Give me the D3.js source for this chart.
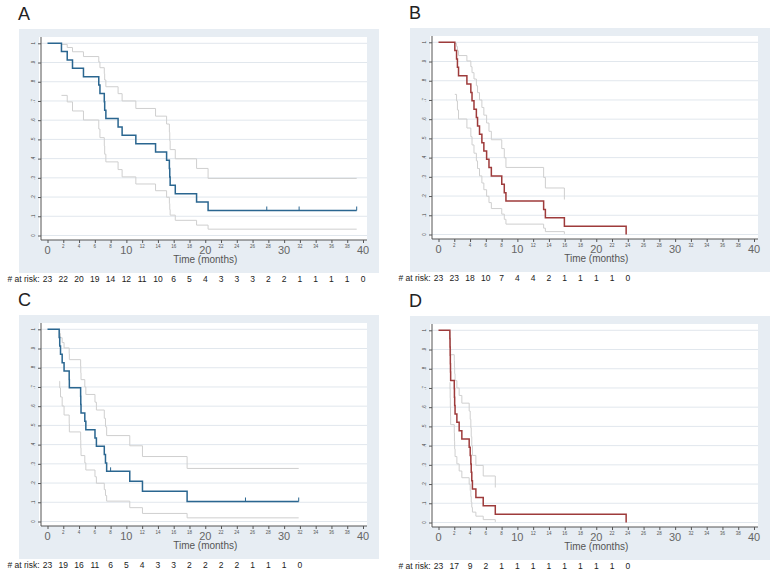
<!DOCTYPE html>
<html>
<head>
<meta charset="utf-8">
<script src="https://cdn.jsdelivr.net/npm/d3@7"></script>
<style>
  html, body { margin: 0; padding: 0; background: #ffffff; }
  svg { display: block; font-family: Arial, "Liberation Sans", sans-serif; }
</style>
</head>
<body>
<svg id="chart" width="779" height="574"></svg>
<script>
// ---------------- DATA ----------------
const panelLabels = ["A", "B", "C", "D"];
const xTicks = [0,2,4,6,8,10,12,14,16,18,20,22,24,26,28,30,32,34,36,38,40];
const yTicks = [0,0.1,0.2,0.3,0.4,0.5,0.6,0.7,0.8,0.9,1];
const yTickLabels = ["0",".1",".2",".3",".4",".5",".6",".7",".8",".9","1"];
const xAxisTitle = "Time (months)";
const riskLabel = "# at risk:";

// Panel A
const timesA = [0,1.77,2.5,3.17,4.56,6.5,6.65,7.2,7.25,7.4,8.95,9.46,11.2,13.7,15.1,15.45,15.5,15.55,16.2,18.9,20.36];
const survA  = [1,.957,.913,.870,.826,.783,.739,.696,.652,.609,.565,.522,.478,.435,.391,.348,.304,.261,.217,.174,.130];
const upperA = [null,.994,.978,.956,.931,.903,.873,.842,.809,.774,.738,.700,.661,.621,.580,.537,.493,.447,.399,.349,.297];
const lowerA = [null,.729,.695,.648,.601,.554,.509,.466,.423,.383,.343,.305,.268,.233,.199,.166,.135,.106,.079,.054,.033];
const endA = 39.2;
const censorA = [27.8,31.9,39.2];
const riskA = [23,22,20,19,14,12,11,10,6,5,4,3,3,3,2,2,1,1,1,1,0];

// Panel B
const timesB = [0,2.07,2.29,2.4,2.54,3.6,4.1,4.25,4.5,4.8,4.95,5.2,5.5,5.75,6.1,6.4,6.7,8.02,8.34,8.55,13.33,13.55,15.96,23.79];
const survB  = [1,.957,.913,.870,.826,.783,.739,.696,.652,.609,.565,.522,.478,.435,.391,.348,.304,.261,.217,.174,.130,.087,.0435,0];
const upperB = [null,.994,.978,.956,.931,.903,.873,.842,.809,.774,.738,.700,.661,.621,.580,.537,.493,.447,.399,.349,.297,.242,.182,null];
const lowerB = [null,.729,.695,.648,.601,.554,.509,.466,.423,.383,.343,.305,.268,.233,.199,.166,.135,.106,.079,.054,.033,.015,.003,null];
const endB = 23.79;
const censorB = [];
const riskB = [23,23,18,10,7,4,4,2,1,1,1,1,0];

// Panel C
const timesC = [0,1.48,1.55,1.65,1.86,2.1,2.75,2.77,4.2,4.22,4.25,4.73,4.86,6.02,6.2,7.2,7.35,7.5,10.43,12.04,17.7];
const survC  = [1,.957,.913,.870,.826,.783,.739,.696,.652,.609,.565,.522,.478,.435,.391,.348,.304,.261,.209,.157,.104];
const upperC = [null,.994,.978,.956,.931,.903,.873,.842,.809,.774,.738,.700,.661,.621,.580,.537,.493,.447,.394,.338,.276];
const lowerC = [null,.729,.695,.648,.601,.554,.509,.466,.423,.383,.343,.305,.268,.233,.199,.166,.135,.106,.072,.042,.019];
const endC = 31.85;
const censorC = [8.0,25.1,31.85];
const riskC = [23,19,16,11,6,5,4,3,3,2,2,2,2,1,1,1,0];

// Panel D
const timesD = [0,1.44,1.46,1.48,1.5,1.52,1.54,2.0,2.02,2.05,2.1,2.33,2.62,2.96,3.89,4.02,4.1,4.15,4.22,4.3,4.74,5.67,7.2,23.79];
const survD  = [1,.957,.913,.870,.826,.783,.739,.696,.652,.609,.565,.522,.478,.435,.391,.348,.304,.261,.217,.174,.130,.087,.0435,0];
const upperD = [null,.994,.978,.956,.931,.903,.873,.842,.809,.774,.738,.700,.661,.621,.580,.537,.493,.447,.399,.349,.297,.242,.182,null];
const lowerD = [null,.729,.695,.648,.601,.554,.509,.466,.423,.383,.343,.305,.268,.233,.199,.166,.135,.106,.079,.054,.033,.015,.003,null];
const endD = 23.79;
const censorD = [];
const riskD = [23,17,9,2,1,1,1,1,1,1,1,1,0];

const blueColor = "#2a6690";
const redColor = "#9e3b3b";

const panels = [
  {label:"A", ox:19,  oy:29,  times:timesA, surv:survA, upper:upperA, lower:lowerA, end:endA, censor:censorA, risk:riskA, color:blueColor},
  {label:"B", ox:410, oy:28,  times:timesB, surv:survB, upper:upperB, lower:lowerB, end:endB, censor:censorB, risk:riskB, color:redColor},
  {label:"C", ox:19,  oy:315, times:timesC, surv:survC, upper:upperC, lower:lowerC, end:endC, censor:censorC, risk:riskC, color:blueColor},
  {label:"D", ox:410, oy:316, times:timesD, surv:survD, upper:upperD, lower:lowerD, end:endD, censor:censorD, risk:riskD, color:redColor}
];

// ---------------- DRAW ----------------
const svg = d3.select("#chart");

panels.forEach(p => {
  const g = svg.append("g").attr("transform", `translate(${p.ox},${p.oy})`);
  const x = d3.scaleLinear().domain([0, 40]).range([28.5, 344]);
  const y = d3.scaleLinear().domain([0, 1]).range([206.5, 14.3]);

  // panel letter
  g.append("text").attr("x", -1).attr("y", -9)
    .attr("font-size", 18).attr("fill", "#222").text(p.label);

  // background
  g.append("rect").attr("x", 0).attr("y", 0).attr("width", 360).attr("height", 244)
    .attr("fill", "#e7edf3");
  g.append("rect").attr("x", 20).attr("y", 8).attr("width", 328).attr("height", 203)
    .attr("fill", "#ffffff");

  // gridlines
  g.append("g").selectAll("line").data(yTicks).join("line")
    .attr("x1", 22).attr("x2", 348)
    .attr("y1", d => y(d)).attr("y2", d => y(d))
    .attr("stroke", "#e1e7ed").attr("stroke-width", 1);

  // y axis
  const yAxis = g.append("g").attr("transform", "translate(22,0)")
    .call(d3.axisLeft(y).tickValues(yTicks).tickSize(3).tickFormat(""));
  yAxis.select(".domain").attr("stroke", "#555").attr("d", `M0,8V211`);
  yAxis.selectAll(".tick line").attr("stroke", "#555");
  g.append("g").selectAll("text").data(yTicks).join("text")
    .attr("transform", (d) => `translate(14,${y(d)}) rotate(-90)`)
    .attr("text-anchor", "middle").attr("dy", "0.35em")
    .attr("font-size", 4.5).attr("fill", "#444")
    .text((d, i) => yTickLabels[i]);

  // x axis
  const xAxis = g.append("g").attr("transform", "translate(0,211)")
    .call(d3.axisBottom(x).tickValues(xTicks).tickSize(3).tickFormat(""));
  xAxis.select(".domain").attr("stroke", "#555").attr("d", `M22,0H348`);
  xAxis.selectAll(".tick line").attr("stroke", "#555");
  g.append("g").selectAll("text").data(xTicks).join("text")
    .attr("x", d => x(d))
    .attr("y", d => (d % 10 === 0) ? 224.5 : 219)
    .attr("text-anchor", "middle")
    .attr("font-size", d => (d % 10 === 0) ? 11 : 4.5)
    .attr("fill", d => (d % 10 === 0) ? "#666" : "#555")
    .text(d => d);
  g.append("text").attr("x", (x(0) + x(40)) / 2).attr("y", 234)
    .attr("text-anchor", "middle").attr("font-size", 10).attr("fill", "#555")
    .text(xAxisTitle);

  // confidence limits
  const line = d3.line().x(d => x(d[0])).y(d => y(d[1])).curve(d3.curveStepAfter);
  [p.upper, p.lower].forEach(arr => {
    const pts = [];
    let lastIdx = -1;
    arr.forEach((v, i) => { if (v !== null) { pts.push([p.times[i], v]); lastIdx = i; } });
    if (lastIdx === p.times.length - 1 && p.end > p.times[lastIdx]) pts.push([p.end, arr[lastIdx]]);
    g.append("path").attr("d", line(pts)).attr("fill", "none")
      .attr("stroke", "#cfcfcf").attr("stroke-width", 1);
  });

  // survival curve
  const pts = p.times.map((t, i) => [t, p.surv[i]]);
  const last = p.surv[p.surv.length - 1];
  if (p.end > p.times[p.times.length - 1]) pts.push([p.end, last]);
  g.append("path").attr("d", line(pts)).attr("fill", "none")
    .attr("stroke", p.color).attr("stroke-width", 1.5);

  // censor marks
  const survAt = t => { let s = 1; p.times.forEach((tt, i) => { if (tt <= t) s = p.surv[i]; }); return s; };
  g.append("g").selectAll("line").data(p.censor).join("line")
    .attr("x1", d => x(d)).attr("x2", d => x(d))
    .attr("y1", d => y(survAt(d)) - 4).attr("y2", d => y(survAt(d)))
    .attr("stroke", p.color).attr("stroke-width", 1);

  // risk table
  g.append("text").attr("x", x(0) - 8).attr("y", 253)
    .attr("text-anchor", "end").attr("font-size", 8.5).attr("fill", "#222")
    .text(riskLabel);
  g.append("g").selectAll("text").data(p.risk).join("text")
    .attr("x", (d, i) => x(xTicks[i]))
    .attr("y", 253)
    .attr("text-anchor", "middle").attr("font-size", 8.5).attr("fill", "#222")
    .text(d => d);
});
</script>
</body>
</html>
